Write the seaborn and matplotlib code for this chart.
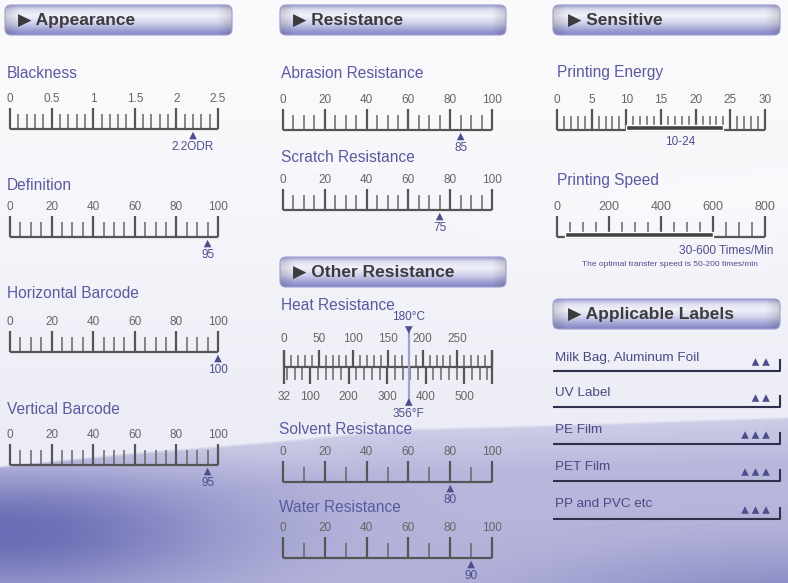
import numpy as np
import matplotlib
matplotlib.use("Agg")
import matplotlib.pyplot as plt
import seaborn as sns
from matplotlib.patches import FancyBboxPatch

# ---------------- data ----------------
section_titles = ["Appearance", "Resistance", "Sensitive", "Other Resistance", "Applicable Labels"]

percent_ticks = [0, 20, 40, 60, 80, 100]
blackness_ticks = [0, 0.5, 1, 1.5, 2, 2.5]
blackness_tick_labels = ["0", "0.5", "1", "1.5", "2", "2.5"]
blackness_value = 2.2
blackness_label = "2.2ODR"

definition_value = 95
horizontal_value = 100
vertical_value = 95
abrasion_value = 85
scratch_value = 75
solvent_value = 80
water_value = 90

heat_c_ticks = [0, 50, 100, 150, 200, 250]
heat_f_ticks = [32, 100, 200, 300, 400, 500]
heat_value_c = 180
heat_value_f = 356

energy_ticks = [0, 5, 10, 15, 20, 25, 30]
energy_range = [10, 24]
speed_ticks = [0, 200, 400, 600, 800]
speed_range = [30, 600]
speed_note = "The optimal transfer speed is 50-200 times/min"

label_names = ["Milk Bag, Aluminum Foil", "UV Label", "PE Film", "PET Film", "PP and PVC etc"]
label_marks = [2, 2, 3, 3, 3]

# ---------------- style ----------------
W, H = 788, 583
sns.set_theme(style="white")
plt.rcParams["font.family"] = ["Liberation Sans", "DejaVu Sans"]

TITLE_C = "#5a5aa0"
TICKLAB_C = "#666666"
MAJOR_C = "#555555"
MINOR_C = "#666666"
MARK_C = "#4e4e8e"
HEAD_C = "#3c3c3c"

fig = plt.figure(figsize=(W / 100, H / 100), dpi=100)

# background axes in pixel coordinates
bg = fig.add_axes([0, 0, 1, 1], zorder=0)
bg.axis("off")

yy, xx = np.mgrid[0:H, 0:W].astype(float)
top_c = np.array([249, 249, 252])
low_c = np.array([236, 236, 246])
t = np.clip((yy - 120) / 320.0, 0, 1)[..., None]
img = top_c * (1 - t) + low_c * t
# light arc on the right
arc = np.exp(-((yy - (215 - 0.08 * (xx - 500))) / 35.0) ** 2) * np.clip((xx - 430) / 200.0, 0, 1)
img = img * (1 - 0.6 * arc[..., None]) + np.array([252, 252, 254]) * (0.6 * arc[..., None])
# wave
curve = np.interp(xx[0], [0, 130, 277, 400, 545, 788], [465, 452, 440, 428, 424, 416])
inside = np.clip((yy - curve[None, :]) / 3.0, 0, 1)
light = np.array([184, 184, 221])
dark1 = np.array([106, 108, 181])
dark2 = np.array([140, 140, 198])
w1 = np.exp(-((xx / 230.0) ** 2 + ((yy - 532) / 62.0) ** 2))
w2 = np.exp(-(((xx - 788) / 260.0) ** 2 + ((yy - 600) / 55.0) ** 2))
depth = np.clip((yy - curve[None, :]) / 45.0, 0, 1)
light2 = np.array([206, 206, 232]) * (1 - depth[..., None]) + light * depth[..., None]
wave = light2 * (1 - w1[..., None]) + dark1 * w1[..., None]
wave = wave * (1 - w2[..., None]) + dark2 * w2[..., None]
img = img * (1 - inside[..., None]) + wave * inside[..., None]
bg.imshow(np.clip(img / 255.0, 0, 1), extent=(0, W, H, 0), aspect="auto", zorder=0)


def header(x0, y0, x1, y1, text, tx):
    ts = np.linspace(0, 1, 64)
    st = [0, 0.15, 0.35, 0.6, 0.85, 1]
    sc = [(160, 162, 212), (222, 223, 242), (241, 241, 250), (210, 211, 236), (156, 158, 210), (132, 134, 197)]
    col = np.stack([np.interp(ts, st, [c[i] for c in sc]) for i in range(3)], -1)
    xs = np.linspace(0, 1, 240)
    e = np.clip(np.minimum(xs, 1 - xs) * (x1 - x0) / 14.0, 0, 1)
    fac = 0.86 + 0.14 * e
    gimg = np.clip(col[:, None, :] * fac[None, :, None] / 255.0, 0, 1)
    patch = FancyBboxPatch((x0, y0), x1 - x0, y1 - y0,
                           boxstyle="round,pad=0,rounding_size=6",
                           facecolor="none", edgecolor=(0.62, 0.62, 0.82), lw=0.8, zorder=3)
    bg.add_patch(patch)
    im = bg.imshow(gimg, extent=(x0, x1, y1, y0), aspect="auto", zorder=2)
    im.set_clip_path(patch)
    bg.text(tx, (y0 + y1) / 2 + 0.5, "\u25B6 " + text, ha="left", va="center",
            fontsize=12.5, fontweight="bold", color=HEAD_C, zorder=4,
            family=["Liberation Sans", "DejaVu Sans"])


header(5, 5, 232, 35, section_titles[0], 18)
header(280, 5, 506, 35, section_titles[1], 293)
header(553, 5, 780, 35, section_titles[2], 568)
header(280, 257, 506, 287, section_titles[3], 293)
header(553, 299, 780, 329, section_titles[4], 568)


def title(x, y, s):
    bg.text(x, y, s, ha="left", va="center", fontsize=11.2, color=TITLE_C, zorder=4)


def ruler_axes(x0, x1, ytop, ybot):
    ax = fig.add_axes([x0 / W, 1 - ybot / H, (x1 - x0) / W, (ybot - ytop) / H], zorder=5)
    ax.set_ylim(ybot, ytop)
    ax.axis("off")
    ax.patch.set_alpha(0)
    return ax


def mark(ax, x, y, m="^", s=30):
    sns.scatterplot(x=[x], y=[y], marker=m, s=s, color=MARK_C, edgecolor="none",
                    ax=ax, legend=False, clip_on=False, zorder=6)


def draw_ruler(x0, x1, base, vmin, vmax, major, minor, ticks, tick_labels=None,
               value=None, vlabel=None, minor_len=15, fs=8.5):
    ax = ruler_axes(x0, x1, base - 45, base + 28)
    ax.set_xlim(vmin, vmax)
    minors = np.arange(vmin, vmax + 1e-9, minor)
    majors = np.arange(vmin, vmax + 1e-9, major)
    ax.vlines(minors, base - minor_len, base, color=MINOR_C, lw=1.1, clip_on=False)
    ax.vlines(majors, base - 21, base, color=MAJOR_C, lw=1.6, clip_on=False)
    ax.hlines(base, vmin, vmax, color=MAJOR_C, lw=1.6, clip_on=False)
    if tick_labels is None:
        tick_labels = ["{:g}".format(t) for t in ticks]
    for t, lab in zip(ticks, tick_labels):
        ax.text(t, base - 30, lab, ha="center", va="center", fontsize=fs, color=TICKLAB_C)
    if value is not None:
        mark(ax, value, base + 6.5)
        ax.text(value, base + 18, vlabel, ha="center", va="center", fontsize=8.5, color=MARK_C)
    return ax


# ---- Appearance ----
title(7, 73, "Blackness")
draw_ruler(10, 218, 129, 0, 2.5, 0.5, 0.1, blackness_ticks, blackness_tick_labels,
           blackness_value, blackness_label)
title(7, 185, "Definition")
draw_ruler(10, 218, 237, 0, 100, 20, 5, percent_ticks, None, definition_value, str(definition_value))
title(7, 294, "Horizontal Barcode")
draw_ruler(10, 218, 352, 0, 100, 20, 5, percent_ticks, None, horizontal_value, str(horizontal_value))
title(7, 410, "Vertical Barcode")
draw_ruler(10, 218, 465, 0, 100, 20, 5, percent_ticks, None, vertical_value, str(vertical_value))

# ---- Resistance ----
title(281, 73, "Abrasion Resistance")
draw_ruler(283, 492, 130, 0, 100, 20, 5, percent_ticks, None, abrasion_value, str(abrasion_value))
title(281, 158, "Scratch Resistance")
draw_ruler(283, 492, 210, 0, 100, 20, 5, percent_ticks, None, scratch_value, str(scratch_value))

# ---- Other Resistance ----
title(281, 305, "Heat Resistance")
hb = 367
ax = ruler_axes(284, 492, 305, 420)
ax.set_xlim(0, 300)
c_min = np.arange(0, 301, 10)
c_maj = np.arange(0, 301, 50)
f_min = (np.arange(40, 572, 20) - 32) * 5 / 9
f_maj = (np.arange(100, 572, 100) - 32) * 5 / 9
ax.vlines(c_min, hb - 12, hb, color=MINOR_C, lw=1.1, clip_on=False)
ax.vlines(c_maj, hb - 17, hb, color=MAJOR_C, lw=1.6, clip_on=False)
ax.vlines(f_min, hb, hb + 13, color=MINOR_C, lw=1.1, clip_on=False)
ax.vlines(f_maj, hb, hb + 17, color=MAJOR_C, lw=1.6, clip_on=False)
ax.vlines([0, 300], hb - 17, hb + 17, color=MAJOR_C, lw=1.6, clip_on=False)
ax.hlines(hb, 0, 300, color=MAJOR_C, lw=1.6, clip_on=False)
for t in heat_c_ticks:
    ax.text(t, hb - 28, str(t), ha="center", va="center", fontsize=8.5, color=TICKLAB_C)
for t in heat_f_ticks:
    ax.text((t - 32) * 5 / 9, hb + 30, str(t), ha="center", va="center", fontsize=8.5, color=TICKLAB_C)
ax.vlines([heat_value_c], hb - 38, hb + 35, color="#a2a2d2", lw=1.6, clip_on=False, zorder=4)
mark(ax, heat_value_c, hb - 37, m="v")
mark(ax, heat_value_c, hb + 35, m="^")
ax.text(heat_value_c, hb - 50, "{}°C".format(heat_value_c), ha="center", va="center",
        fontsize=8.5, color=MARK_C)
ax.text(heat_value_c, hb + 47, "{}°F".format(heat_value_f), ha="center", va="center",
        fontsize=8.5, color=MARK_C)

title(279, 430, "Solvent Resistance")
draw_ruler(283, 492, 482, 0, 100, 20, 10, percent_ticks, None, solvent_value, str(solvent_value))
title(279, 508, "Water Resistance")
draw_ruler(283, 492, 558, 0, 100, 20, 10, percent_ticks, None, water_value, str(water_value))

# ---- Sensitive ----
title(557, 73, "Printing Energy")
ax = draw_ruler(557, 765, 130, 0, 30, 5, 1, energy_ticks, minor_len=14)
ax.barh(127.5, energy_range[1] - energy_range[0], left=energy_range[0], height=5,
        color="#444444", zorder=5)
ax.annotate("{}-{}".format(*energy_range), (sum(energy_range) / 2, 142), xytext=(4, 0),
            textcoords="offset points", ha="center", va="center", fontsize=8.5, color=MARK_C)

title(557, 180, "Printing Speed")
ax = draw_ruler(557, 765, 237, 0, 800, 200, 50, speed_ticks, minor_len=15, fs=9)
ax.barh(234.5, speed_range[1] - speed_range[0], left=speed_range[0], height=5,
        color="#444444", zorder=5)
bg.text(773, 251, "{}-{} Times/Min".format(*speed_range), ha="right", va="center",
        fontsize=8.6, color=MARK_C, zorder=4)
bg.text(670, 264, speed_note, ha="center", va="center", fontsize=6, color=MARK_C, zorder=4)

# ---- Applicable Labels ----
lab_y = [358, 393, 430, 467, 504]
line_y = [371, 407, 444, 481, 519]
for name, n, ty, ly in zip(label_names, label_marks, lab_y, line_y):
    bg.text(555, ty, name, ha="left", va="center", fontsize=9.7, color="#4a4a84", zorder=4)
    bg.plot([553, 780, 780], [ly, ly, ly - 12], color="#30304c", lw=1.5, zorder=4,
            solid_capstyle="butt")
    xs = [766 - 10.5 * k for k in range(n)]
    sns.scatterplot(x=xs, y=[ly - 9] * n, marker="^", s=30, color=MARK_C, edgecolor="none",
                    ax=bg, legend=False, zorder=5)

bg.set_xlim(0, W)
bg.set_ylim(H, 0)
bg.axis("off")

fig.savefig("out.png", dpi=100)
